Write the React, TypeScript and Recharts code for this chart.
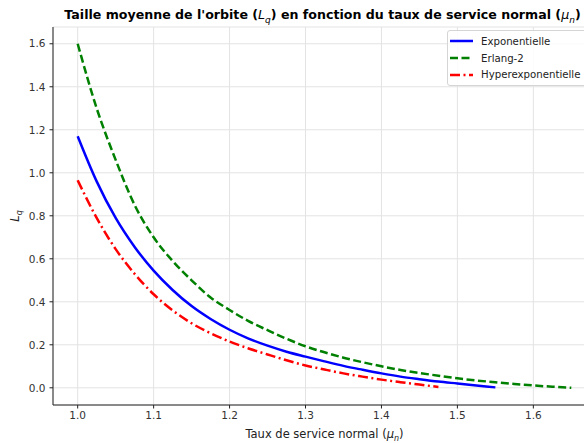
import { LineChart, Line, XAxis, YAxis, CartesianGrid, Legend } from "recharts";

// service rate grid (mu_n) and mean orbit size per service-time law
const MU = [
  1.0, 1.025, 1.05, 1.075, 1.1, 1.125, 1.15, 1.175, 1.2, 1.225, 1.25, 1.275,
  1.3, 1.325, 1.35, 1.375, 1.4, 1.425, 1.45, 1.475, 1.5, 1.525, 1.55, 1.575,
  1.6, 1.625, 1.65,
];
const LQ_EXPO = [
  1.17, 0.96, 0.79, 0.655, 0.545, 0.455, 0.38, 0.32, 0.27, 0.229, 0.196,
  0.168, 0.145, 0.123, 0.102, 0.084, 0.067, 0.052, 0.04, 0.029, 0.02, 0.011,
  0.002,
];
const LQ_ERLANG = [
  1.6, 1.3, 1.06, 0.85, 0.7, 0.59, 0.5, 0.42, 0.362, 0.31, 0.268, 0.228, 0.193,
  0.165, 0.14, 0.119, 0.1, 0.083, 0.069, 0.056, 0.044, 0.034, 0.026, 0.018,
  0.011, 0.005, 0.0,
];
const LQ_HYPER = [
  0.965, 0.79, 0.645, 0.53, 0.435, 0.36, 0.3, 0.254, 0.215, 0.183, 0.155,
  0.128, 0.104, 0.085, 0.067, 0.052, 0.038, 0.026, 0.015, 0.004,
];
const X_TICKS = [1.0, 1.1, 1.2, 1.3, 1.4, 1.5, 1.6];
const Y_TICKS = [0, 0.2, 0.4, 0.6, 0.8, 1.0, 1.2, 1.4, 1.6];

const SERIES = [
  { key: "expo", name: "Exponentielle", color: "#0000ff", dash: undefined },
  { key: "erlang", name: "Erlang-2", color: "#008000", dash: "8 3.5" },
  { key: "hyper", name: "Hyperexponentielle", color: "#ff0000", dash: "10 3.5 2 3.5" },
];

const data = MU.map((mu, i) => ({
  mu,
  expo: LQ_EXPO[i] ?? null,
  erlang: LQ_ERLANG[i] ?? null,
  hyper: LQ_HYPER[i] ?? null,
}));

const FONT = "DejaVu Sans, sans-serif";
const TICK = { fontSize: 10.5, fill: "#333", fontFamily: FONT };

const LegendBox = () => (
  <div
    style={{
      border: "1px solid #d5d5d5",
      borderRadius: 3,
      background: "rgba(255,255,255,0.85)",
      padding: "2px 14px 2px 2px",
      fontFamily: FONT,
      fontSize: 10.2,
      color: "#222",
    }}
  >
    {SERIES.map((s) => (
      <div key={s.key} style={{ display: "flex", alignItems: "center", height: 16.7 }}>
        <svg width={23} height={8} style={{ marginRight: 8 }}>
          <line
            x1={0}
            x2={23}
            y1={4}
            y2={4}
            stroke={s.color}
            strokeWidth={2.5}
            strokeDasharray={s.dash}
          />
        </svg>
        <span style={{ whiteSpace: "nowrap" }}>{s.name}</span>
      </div>
    ))}
  </div>
);

const XLabel = ({ viewBox }: any) => {
  const cx = viewBox.x + viewBox.width / 2;
  return (
    <text x={cx} y={438} textAnchor="middle" fontFamily={FONT} fontSize={11.5} fill="#222">
      Taux de service normal (<tspan fontStyle="italic">μ</tspan>
      <tspan fontStyle="italic" fontSize={8} dy={3}>n</tspan>
      <tspan dy={-3}>)</tspan>
    </text>
  );
};

const YLabel = ({ viewBox }: any) => {
  const cy = viewBox.y + viewBox.height / 2;
  return (
    <text
      x={19}
      y={cy}
      textAnchor="middle"
      transform={`rotate(-90 19 ${cy})`}
      fontFamily={FONT}
      fontSize={11.5}
      fill="#222"
    >
      <tspan fontStyle="italic">L</tspan>
      <tspan fontStyle="italic" fontSize={8} dy={3}>q</tspan>
    </text>
  );
};

const sub = { fontWeight: "normal", fontStyle: "italic", fontSize: 9 } as const;

export default function App() {
  return (
    <div
      style={{
        position: "fixed",
        top: 0,
        left: 0,
        width: 584,
        height: 443,
        overflow: "hidden",
        background: "#fff",
      }}
    >
      <div
        style={{
          position: "absolute",
          top: 7,
          left: 51,
          width: 543,
          textAlign: "center",
          fontFamily: FONT,
          fontWeight: "bold",
          fontSize: 12.6,
          color: "#000",
          whiteSpace: "nowrap",
        }}
      >
        Taille moyenne de l'orbite (<i style={{ fontWeight: "normal" }}>L</i>
        <sub style={sub}>q</sub>) en fonction du taux de service normal (
        <i style={{ fontWeight: "normal" }}>μ</i>
        <sub style={sub}>n</sub>)
      </div>
      <LineChart
        width={620}
        height={443}
        data={data}
        margin={{ top: 27, right: 24, bottom: 0, left: 0 }}
      >
        <CartesianGrid stroke="#e3e3e3" strokeWidth={1} />
        <XAxis
          dataKey="mu"
          type="number"
          domain={[0.9675, 1.6825]}
          ticks={X_TICKS}
          tickFormatter={(v) => v.toFixed(1)}
          height={38}
          tickSize={3.5}
          tickMargin={3}
          tick={TICK}
          stroke="#222"
          allowDataOverflow
          label={<XLabel />}
        />
        <XAxis
          xAxisId="top"
          dataKey="mu"
          type="number"
          orientation="top"
          domain={[0.9675, 1.6825]}
          height={0}
          tick={false}
          tickLine={false}
          stroke="#222"
        />
        <YAxis
          type="number"
          domain={[-0.08, 1.678]}
          ticks={Y_TICKS}
          tickFormatter={(v) => v.toFixed(1)}
          width={53}
          tickSize={3.5}
          tickMargin={4}
          tick={TICK}
          stroke="#222"
          allowDataOverflow
          label={<YLabel />}
        />
        <Legend
          layout="vertical"
          align="center"
          verticalAlign="middle"
          wrapperStyle={{ top: 30, left: 447, width: "auto" }}
          content={<LegendBox />}
        />
        {SERIES.map((s) => (
          <Line
            key={s.key}
            dataKey={s.key}
            name={s.name}
            type="monotone"
            stroke={s.color}
            strokeWidth={2.5}
            strokeDasharray={s.dash}
            dot={false}
            activeDot={false}
            connectNulls={false}
            isAnimationActive={false}
          />
        ))}
      </LineChart>
    </div>
  );
}
